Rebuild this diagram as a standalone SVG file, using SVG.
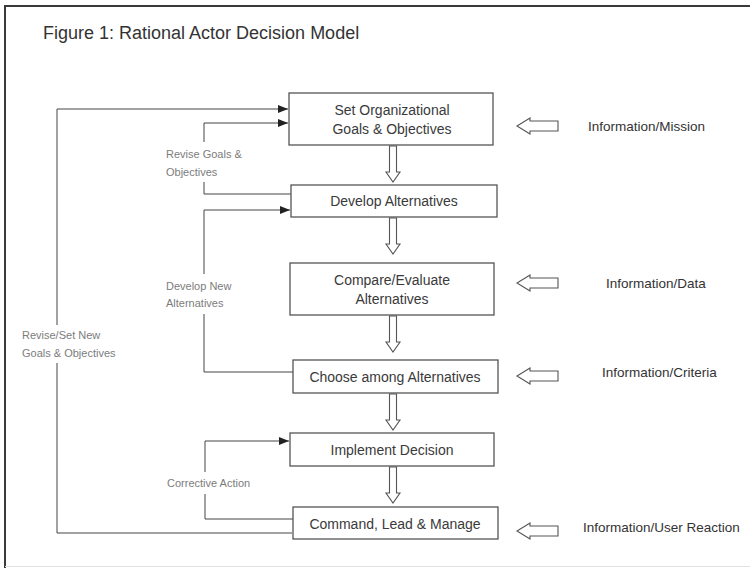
<svg xmlns="http://www.w3.org/2000/svg" width="750" height="568" viewBox="0 0 750 568">
  <defs>
    <style>
      .frame { fill: none; stroke: #3a3a3a; stroke-width: 2; }
      .box { fill: #ffffff; stroke: #555555; stroke-width: 1.3; }
      .boxtext { font-family: "Liberation Sans", Arial, sans-serif; font-size: 14px; fill: #3a3a3a; text-anchor: middle; }
      .info { font-family: "Liberation Sans", Arial, sans-serif; font-size: 13.5px; fill: #333333; }
      .title { font-family: "Liberation Sans", Arial, sans-serif; font-size: 18px; fill: #333333; }
      .loop { fill: none; stroke: #444444; stroke-width: 1; }
      .loopLabel { font-family: "Liberation Sans", Arial, sans-serif; font-size: 11px; fill: #7c7c7c; }
      .labelBg { fill: #ffffff; }
      .hollow { fill: #ffffff; stroke: #555555; stroke-width: 1.1; }
    </style>
    <marker id="head" viewBox="0 0 10 8" refX="10" refY="4" markerWidth="10" markerHeight="8" markerUnits="userSpaceOnUse" orient="auto">
      <path d="M0,0 L10,4 L0,8 Z" fill="#222222"/>
    </marker>
  </defs>

  <!-- page frame -->
  <line x1="5" y1="6" x2="5" y2="568" class="frame"/>
  <line x1="4" y1="6" x2="750" y2="6" class="frame"/>
  <line x1="5" y1="566.5" x2="750" y2="566.5" stroke="#e2e2e2" stroke-width="1"/>

  <text x="43" y="39" class="title">Figure 1: Rational Actor Decision Model</text>

  <!-- feedback loops and block arrows -->
  <g id="connectors">
    <!-- outer loop: Command, Lead & Manage back to goals -->
    <polyline class="loop" points="292,533 57,533 57,109 288,109" marker-end="url(#head)"/>
    <!-- Develop Alternatives back to goals -->
    <polyline class="loop" points="291,194 204,194 204,123 288,123" marker-end="url(#head)"/>
    <!-- Choose among Alternatives back to Develop Alternatives -->
    <polyline class="loop" points="293,372 204,372 204,210 290,210" marker-end="url(#head)"/>
    <!-- Command back to Implement Decision -->
    <polyline class="loop" points="293,519 205,519 205,441 289,441" marker-end="url(#head)"/>

    <!-- hollow block arrows between steps -->
    <path class="hollow" d="M389.5,146 L396.5,146 L396.5,172 L400,172 L393,182 L386,172 L389.5,172 Z"/>
    <path class="hollow" d="M389.5,218 L396.5,218 L396.5,244 L400,244 L393,254 L386,244 L389.5,244 Z"/>
    <path class="hollow" d="M389.5,316 L396.5,316 L396.5,342 L400,342 L393,352 L386,342 L389.5,342 Z"/>
    <path class="hollow" d="M389.5,394 L396.5,394 L396.5,420 L400,420 L393,430 L386,420 L389.5,420 Z"/>
    <path class="hollow" d="M389.5,467 L396.5,467 L396.5,493 L400,493 L393,503 L386,493 L389.5,493 Z"/>

    <!-- hollow block arrows bringing information in -->
    <path class="hollow" d="M558,121 L530,121 L530,118 L517,126 L530,134 L530,131 L558,131 Z"/>
    <path class="hollow" d="M558,278 L530,278 L530,275 L517,283 L530,291 L530,288 L558,288 Z"/>
    <path class="hollow" d="M558,371 L530,371 L530,368 L517,376 L530,384 L530,381 L558,381 Z"/>
    <path class="hollow" d="M558,526 L530,526 L530,523 L517,531 L530,539 L530,536 L558,536 Z"/>
  </g>

  <g id="label-revise-set">
    <rect class="labelBg" x="10" y="325" width="96" height="38"/>
    <text class="loopLabel" x="22" y="339">Revise/Set New</text>
    <text class="loopLabel" x="22" y="357">Goals &amp; Objectives</text>
  </g>
  <g id="label-revise-goals">
    <rect class="labelBg" x="163" y="142" width="84" height="40"/>
    <text class="loopLabel" x="166" y="158">Revise Goals &amp;</text>
    <text class="loopLabel" x="166" y="176">Objectives</text>
  </g>
  <g id="label-develop-new">
    <rect class="labelBg" x="163" y="274" width="84" height="40"/>
    <text class="loopLabel" x="166" y="290">Develop New</text>
    <text class="loopLabel" x="166" y="307">Alternatives</text>
  </g>
  <g id="label-corrective">
    <rect class="labelBg" x="163" y="472" width="96" height="22"/>
    <text class="loopLabel" x="167" y="487">Corrective Action</text>
  </g>

  <!-- process steps -->
  <g id="step-goals">
    <rect class="box" x="289" y="93" width="204" height="52"/>
    <text class="boxtext" x="392" y="115">Set Organizational</text>
    <text class="boxtext" x="392" y="134">Goals &amp; Objectives</text>
  </g>
  <g id="step-develop">
    <rect class="box" x="291" y="185" width="206" height="32"/>
    <text class="boxtext" x="394" y="206">Develop Alternatives</text>
  </g>
  <g id="step-compare">
    <rect class="box" x="290" y="263" width="204" height="52"/>
    <text class="boxtext" x="392" y="285">Compare/Evaluate</text>
    <text class="boxtext" x="392" y="304">Alternatives</text>
  </g>
  <g id="step-choose">
    <rect class="box" x="293" y="360" width="205" height="33"/>
    <text class="boxtext" x="395" y="382">Choose among Alternatives</text>
  </g>
  <g id="step-implement">
    <rect class="box" x="290" y="433" width="204" height="33"/>
    <text class="boxtext" x="392" y="455">Implement Decision</text>
  </g>
  <g id="step-command">
    <rect class="box" x="293" y="507" width="205" height="32"/>
    <text class="boxtext" x="395" y="529">Command, Lead &amp; Manage</text>
  </g>

  <!-- information inputs -->
  <g id="input-mission"><text class="info" x="588" y="131">Information/Mission</text></g>
  <g id="input-data"><text class="info" x="606" y="288">Information/Data</text></g>
  <g id="input-criteria"><text class="info" x="602" y="377">Information/Criteria</text></g>
  <g id="input-reaction"><text class="info" x="583" y="532">Information/User Reaction</text></g>
</svg>
